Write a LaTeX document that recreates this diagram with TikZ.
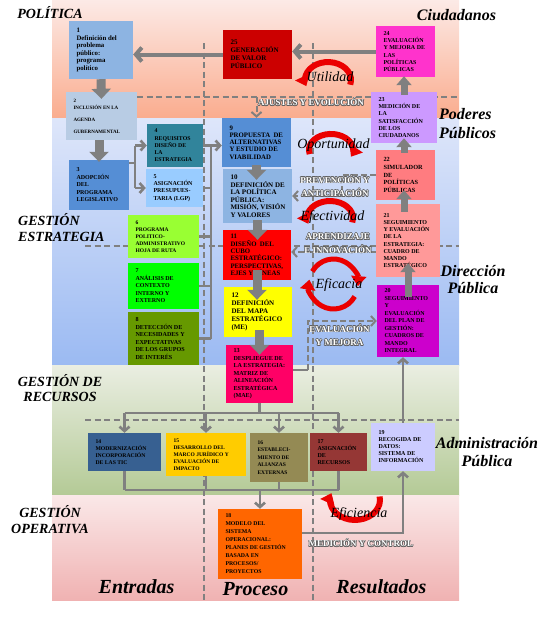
\documentclass[tikz,border=0pt]{standalone}
\usepackage{fontspec}
\newfontfamily\tnr{Liberation Serif}
\usetikzlibrary{arrows.meta}
\definecolor{agrey}{RGB}{128,128,128}
\definecolor{olc}{RGB}{95,95,95}
\definecolor{pk1}{RGB}{252,234,230}\definecolor{pk2}{RGB}{250,172,142}
\definecolor{bl1}{RGB}{222,230,250}\definecolor{bl2}{RGB}{155,186,242}
\definecolor{gr1}{RGB}{234,238,226}\definecolor{gr2}{RGB}{180,202,150}
\definecolor{rs1}{RGB}{250,232,232}\definecolor{rs2}{RGB}{240,178,178}
\definecolor{c1}{RGB}{141,180,226}\definecolor{c2}{RGB}{184,204,228}
\definecolor{c3}{RGB}{85,142,213}\definecolor{c4}{RGB}{49,132,155}
\definecolor{c5}{RGB}{153,204,255}\definecolor{c6}{RGB}{153,255,51}
\definecolor{c7}{RGB}{0,255,0}\definecolor{c8}{RGB}{102,153,0}
\definecolor{c9}{RGB}{85,142,213}\definecolor{c10}{RGB}{141,180,226}
\definecolor{c11}{RGB}{255,0,0}\definecolor{c12}{RGB}{255,255,0}
\definecolor{c13}{RGB}{255,0,102}\definecolor{c14}{RGB}{55,96,145}
\definecolor{c15}{RGB}{255,204,0}\definecolor{c16}{RGB}{148,138,84}
\definecolor{c17}{RGB}{149,55,53}\definecolor{c18}{RGB}{255,102,0}
\definecolor{c19}{RGB}{204,204,255}\definecolor{c20}{RGB}{204,0,204}
\definecolor{c21}{RGB}{255,153,153}\definecolor{c22}{RGB}{255,124,128}
\definecolor{c23}{RGB}{204,153,255}\definecolor{c24}{RGB}{255,51,204}
\definecolor{c25}{RGB}{204,0,0}
\definecolor{arcred}{RGB}{235,0,0}
\tikzset{
 boxsty/.style={draw=none, inner sep=0pt, rectangle},
 txtsty/.style={anchor=west, align=left, inner sep=0pt, text=black},
 conn/.style={draw=agrey, line width=2.6pt},
 dconn/.style={draw=agrey, line width=2pt, dash pattern=on 6pt off 3pt},
 dashline/.style={draw=agrey, line width=2pt, dash pattern=on 6pt off 3.5pt},
 fat/.style={draw=agrey, line width=9pt, -{Triangle[width=19pt,length=10pt]}},
 fatup/.style={draw=agrey, line width=7pt, -{Triangle[width=15pt,length=9pt]}},
 redarc/.style={draw=arcred, line width=6pt, -{Triangle[width=15pt,length=10pt]}},
 seclab/.style={font=\tnr\bfseries\itshape\fontsize{14}{16}\selectfont, inner sep=0pt, align=center},
 mixlab/.style={font=\tnr\bfseries\itshape\fontsize{16}{18}\selectfont, inner sep=0pt, align=center},
 collab/.style={font=\tnr\bfseries\itshape\fontsize{20}{22}\selectfont, inner sep=0pt},
 itlab/.style={font=\tnr\itshape\fontsize{14}{16}\selectfont, inner sep=0pt},
 olabsty/.style={font=\tnr\bfseries\fontsize{9}{13.5}\selectfont, inner sep=0pt, align=center},
 >={Straight Barb[length=4.5pt,width=10pt]}
}
\newcommand\pbox[9]{%
 \node[boxsty, fill=#6, minimum width=#4pt-#2pt, minimum height=#5pt-#3pt] (#1) at ({(#2+#4)/2},{(#3+#5)/2}) {};
 \node[txtsty, font=\tnr\bfseries\fontsize{#7}{#8}\selectfont] (#1t) at ([xshift=7.5pt]#1.west) {#9};}
\newcommand\olab[4]{%
 \foreach \dx/\dy in {0.7/0,-0.7/0,0/0.7,0/-0.7,0.5/0.5,-0.5/0.5,0.5/-0.5,-0.5/-0.5}{%
   \node[olabsty, text=olc] at ([shift={(\dx pt,\dy pt)}]#2,#3) {#4};}
 \node[olabsty, text=white] (#1) at (#2,#3) {#4};}
\begin{document}
\begin{tikzpicture}[x=1pt,y=-1pt]
\useasboundingbox (0,0) rectangle (549,633);
% bands
\fill[top color=pk1, bottom color=pk2] (52,0) rectangle (459,118);
\fill[top color=bl1, bottom color=bl2] (52,118) rectangle (459,365);
\fill[top color=gr1, bottom color=gr2] (52,365) rectangle (459,495);
\fill[top color=rs1, bottom color=rs2] (52,495) rectangle (459,600);
% dashed guide lines
\draw[dashline] (137,97) -- (459,97);
\draw[dashline] (85,246) -- (459,246);
\draw[dashline] (85,420) -- (459,420);
\draw[dashline] (204,43) -- (204,603);
\draw[dashline] (313,43) -- (313,603);
% boxes
\pbox{b1}{69}{21}{133}{79}{c1}{6.8}{7.6}{1\\Definición del\\problema\\público:\\programa\\político}
\pbox{b2}{66}{92}{137}{140}{c2}{5}{7}{2\\INCLUSIÓN EN LA\\[5pt]AGENDA\\[5pt]GUBERNAMENTAL}
\pbox{b3}{69}{160}{129}{210}{c3}{6}{7.5}{3\\ADOPCIÓN\\DEL\\PROGRAMA\\LEGISLATIVO}
\pbox{b4}{147}{124}{203}{167}{c4}{5.8}{7.3}{4\\REQUISITOS\\DISEÑO DE\\LA\\ESTRATEGIA}
\pbox{b5}{146}{169}{203}{207}{c5}{6}{7.3}{5\\ASIGNACIÓN\\PRESUPUES-\\TARIA (LGP)}
\pbox{b6}{128}{215}{199}{258}{c6}{5.5}{7}{6\\PROGRAMA\\POLITICO-\\ADMINISTRATIVO\\HOJA DE RUTA}
\pbox{b7}{128}{263}{199}{309}{c7}{6}{7.5}{7\\ANÁLISIS DE\\CONTEXTO\\INTERNO Y\\EXTERNO}
\pbox{b8}{128}{312}{199}{365}{c8}{6.1}{7.6}{8\\DETECCIÓN DE\\NECESIDADES Y\\EXPECTATIVAS\\DE LOS GRUPOS\\DE INTERÉS}
\pbox{b9}{222}{118}{291}{167}{c9}{6.8}{7.2}{9\\PROPUESTA\ \ DE\\ALTERNATIVAS\\Y ESTUDIO DE\\VIABILIDAD}
\pbox{b10}{223}{169}{292}{223}{c10}{7}{7.5}{10\\DEFINICIÓN DE\\LA POLÍTICA\\PÚBLICA:\\MISIÓN, VISIÓN\\Y VALORES}
\pbox{b11}{223}{230}{291}{280}{c11}{6.8}{7.4}{11\\DISEÑO\ \ DEL\\CUBO\\ESTRATÉGICO:\\PERSPECTIVAS,\\EJES Y LÍNEAS}
\pbox{b12}{224}{287}{292}{337}{c12}{7}{7.8}{12\\DEFINICIÓN\\DEL MAPA\\ESTRATÉGICO\\(ME)}
\pbox{b13}{226}{345}{293}{403}{c13}{6.1}{7.5}{13\\DESPLIEGUE DE\\LA ESTRATEGIA:\\MATRIZ DE\\ALINEACIÓN\\ESTRATÉGICA\\(MAE)}
\pbox{b14}{88}{433}{161}{471}{c14}{5.7}{6.8}{14\\MODERNIZACIÓN\\INCORPORACIÓN\\DE LAS TIC}
\pbox{b15}{166}{433}{246}{476}{c15}{5.5}{7}{15\\DESARROLLO DEL\\MARCO JURÍDICO Y\\EVALUACIÓN DE\\IMPACTO}
\pbox{b16}{250}{433}{308}{482}{c16}{5.5}{7.5}{16\\ESTABLECI-\\MIENTO DE\\ALIANZAS\\EXTERNAS}
\pbox{b17}{310}{433}{367}{471}{c17}{6}{7}{17\\ASIGNACIÓN\\DE\\RECURSOS}
\pbox{b18}{218}{509}{302}{579}{c18}{5.8}{8}{18\\MODELO DEL\\SISTEMA\\OPERACIONAL:\\PLANES DE GESTIÓN\\BASADA EN\\PROCESOS/\\PROYECTOS}
\pbox{b19}{371}{423}{435}{471}{c19}{6}{7}{19\\RECOGIDA DE\\DATOS:\\SISTEMA DE\\INFORMACIÓN}
\pbox{b20}{377}{285}{439}{357}{c20}{6}{7.5}{20\\SEGUIMIENTO\\Y\\EVALUACIÓN\\DEL PLAN DE\\GESTIÓN:\\CUADROS DE\\MANDO\\INTEGRAL}
\pbox{b21}{376}{204}{440}{277}{c21}{6}{7.1}{21\\SEGUIMIENTO\\Y EVALUACIÓN\\DE LA\\ESTRATEGIA:\\CUADRO DE\\MANDO\\ESTRATÉGICO}
\pbox{b22}{376}{150}{435}{200}{c22}{6.3}{7.7}{22\\SIMULADOR\\DE\\POLÍTICAS\\PÚBLICAS}
\pbox{b23}{371}{92}{437}{143}{c23}{6}{7.3}{23\\MEDICIÓN DE\\LA\\SATISFACCIÓN\\DE LOS\\CIUDADANOS}
\pbox{b24}{376}{26}{435}{77}{c24}{6}{7.2}{24\\EVALUACIÓN\\Y MEJORA DE\\LAS\\POLÍTICAS\\PÚBLICAS}
\pbox{b25}{223}{30}{292}{79}{c25}{7}{8}{25\\GENERACIÓN\\DE VALOR\\PÚBLICO}
% connectors
\draw[conn, line width=4pt, -{Straight Barb[length=6pt,width=14pt]}] (b24.west) -- (b24.west -| b25.east);
\draw[conn, line width=4pt, -{Straight Barb[length=6pt,width=14pt]}] (b25.west) -- (b25.west -| b1.east);
\coordinate (k3) at (135,163);
\draw[conn] (k3 -| b3.east) -- (k3);
\draw[conn] (k3 |- b4.west) -- (k3 |- b5.west);
\draw[conn,->] (k3 |- b4.west) -- (b4.west);
\draw[conn,->] (k3 |- b5.west) -- (b5.west);
\coordinate (k9) at (211,0);
\foreach \b in {b4,b5,b6,b7,b8}{\draw[conn] (\b.east) -- (k9 |- \b.east);}
\draw[conn] (k9 |- b4.east) -- (k9 |- b8.east);
\draw[conn,->] (k9 |- b4.east) -- (b4.east -| b9.west);
\coordinate (k13) at (0,413);
\draw[conn] (b13.south) -- (b13.south |- k13);
\draw[conn] (b14.north |- k13) -- (b17.north |- k13);
\foreach \b in {b14,b15,b16,b17}{\draw[conn,->] (\b.north |- k13) -- (\b.north);}
\coordinate (k18) at (0,490);
\foreach \b in {b14,b15,b16,b17}{\draw[conn] (\b.south) -- (\b.south |- k18);}
\draw[conn] (b14.south |- k18) -- (b17.south |- k18);
\draw[conn,->] (b18.north |- k18) -- (b18.north);
\draw[conn,->] ([yshift=11pt]b18.east) -| (b19.south);
\draw[conn,->] (b19.north) -- (b19.north |- b20.south);
% dashed connectors
\coordinate (h1) at (0,97);
\draw[dconn,->] (b9.north |- h1) -- (b9.north);
\draw[dconn,->] (b22.west) -- ++(-34,0) |- (b10.east);
\coordinate (a11) at ([yshift=3pt]b11.east);
\draw[dconn,->] (a11 -| b21.west) -- (a11);
\coordinate (em) at ([xshift=15pt,yshift=4pt]b13.east);
\draw[conn] ([yshift=4pt]b13.east) -- (em);
\draw[dconn,->] (em) |- (b20.west);
% fat arrows
\draw[fat] (b1.south) -- ([yshift=-7pt]b2.north);
\draw[fat] (b3.north |- b2.south) -- ([yshift=-2pt]b3.north);
\draw[fat] ([yshift=2pt]b9.south) -- ([yshift=-11pt]b9.south |- b10.north);
\draw[fat] ([yshift=3pt]b10.south) -- ([yshift=-10pt]b10.south |- b11.north);
\draw[fat] ([yshift=10pt]b11.south) -- ([yshift=-13pt]b11.south |- b12.north);
\draw[fat] ([yshift=7pt]b12.south -| b13.north) -- ([yshift=-10pt]b13.north);
\draw[fatup] ([yshift=-3pt]b23.north) -- ([yshift=1pt]b23.north |- b24.south);
\draw[fatup] ([yshift=-3pt]b22.north -| b23.south) -- ([yshift=5pt]b23.south);
\draw[fatup] ([yshift=-8pt]b21.north -| b23.south) -- ([yshift=10pt]b22.south -| b23.south);
\draw[fatup] ([yshift=-12pt]b20.north) -- ([yshift=14pt]b20.north |- b21.south);
% red arcs
\draw[redarc] (350.2,84.7) arc[start angle=15, end angle=-200, x radius=23, y radius=18];
\draw[redarc] (309.75,154.1) arc[start angle=165, end angle=385, x radius=22, y radius=16];
\draw[redarc] (352.2,222.4) arc[start angle=15, end angle=-200, x radius=23, y radius=17];
\draw[redarc, line width=5pt] (312.3,271.5) arc[start angle=-150, end angle=5, x radius=24.5, y radius=25];
\draw[redarc, line width=5pt] (354.7,296.5) arc[start angle=30, end angle=190, x radius=24.5, y radius=25];
\draw[redarc] (379.6,496.5) arc[start angle=-10, end angle=200, x radius=25, y radius=20];
% italic labels
\node[itlab] (lUti) at (330,77) {Utilidad};
\node[itlab] (lOpo) at (333.5,145) {Oportunidad};
\node[itlab] (lEfe) at (332.5,217) {Efectividad};
\node[itlab] (lEfa) at (339,285) {Eficacia};
\node[itlab] (lEfi) at (359,514) {Eficiencia};
% outlined labels
\olab{lAju}{311}{102}{AJUSTES Y EVOLUCIÓN}
\olab{lPre}{335}{186}{PREVENCIÓN Y\\ANTICIPACIÓN}
\olab{lApr}{338}{243.5}{APRENDIZAJE\\E INNOVACIÓN}
\olab{lEva}{339.5}{335}{EVALUACIÓN\\Y MEJORA}
\olab{lMed}{361}{543}{MEDICIÓN Y CONTROL}
% section labels
\node[seclab] (lPol) at (50,13) {POLÍTICA};
\node[mixlab] (lCiu) at (456.5,15) {Ciudadanos};
\node[mixlab, align=left, anchor=west, font=\tnr\bfseries\itshape\fontsize{16}{19}\selectfont] (lPod) at (439,124) {Poderes\\Públicos};
\node[seclab, align=left, anchor=west] (lGE) at (18,228) {GESTIÓN\\ESTRATEGIA};
\node[mixlab, font=\tnr\bfseries\itshape\fontsize{16}{17}\selectfont] (lDir) at (473,280) {Dirección\\Pública};
\node[seclab, font=\tnr\bfseries\itshape\fontsize{14}{15}\selectfont] (lGR) at (60,388) {GESTIÓN DE\\RECURSOS};
\node[mixlab] (lAdm) at (487,452) {Administración\\Pública};
\node[seclab] (lGO) at (50,520) {GESTIÓN\\OPERATIVA};
\node[collab] (lEnt) at (136.5,587) {Entradas};
\node[collab] (lPro) at (255.5,589) {Proceso};
\node[collab] (lRes) at (381.5,587) {Resultados};
\end{tikzpicture}
\end{document}
